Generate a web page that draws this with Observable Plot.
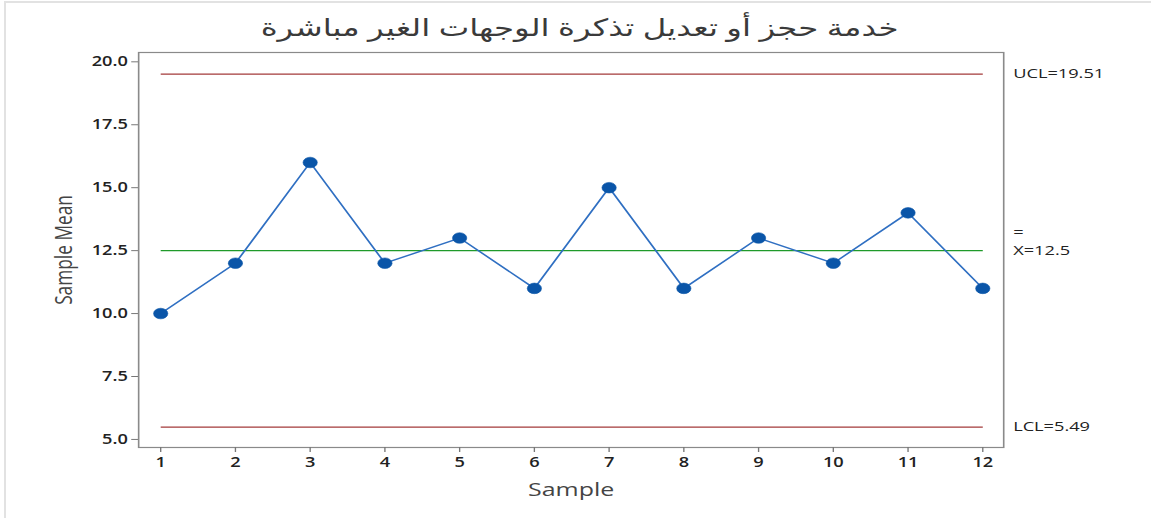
<!DOCTYPE html>
<html>
<head>
<meta charset="utf-8">
<script src="https://cdn.jsdelivr.net/npm/d3@7"></script>
<script src="https://cdn.jsdelivr.net/npm/@observablehq/plot@0.6"></script>
<style>
  html, body { margin: 0; padding: 0; background: #fff; overflow: hidden; }
  #page { position: relative; width: 1151px; height: 518px; overflow: hidden; }
  #edge { position: absolute; left: 4px; top: 1px; right: 0; bottom: 0; border-left: 2px solid #e2e2e2; border-top: 2px solid #e2e2e2; pointer-events: none; }
  #wrap { position: absolute; left: 0; top: 0; width: 852.6px; height: 518px; transform: scaleX(1.35); transform-origin: 0 0; }
  #title { height: 46px; line-height: 54px; text-align: center; font-family: "Noto Sans", "DejaVu Sans", sans-serif; font-size: 24px; color: #3a3a3a; padding-left: 6px; }
</style>
</head>
<body>
<div id="page">
  <div id="wrap">
    <div id="title" dir="rtl">خدمة حجز أو تعديل تذكرة الوجهات الغير مباشرة</div>
    <div id="chart"></div>
  </div>
  <div id="edge"></div>
</div>
<script>
const samples = [1, 2, 3, 4, 5, 6, 7, 8, 9, 10, 11, 12];
const means = [10, 12, 16, 12, 13, 11, 15, 11, 13, 12, 14, 11];
const UCL = 19.51;
const CENTER = 12.5;
const LCL = 5.49;
const yTicks = [5, 7.5, 10, 12.5, 15, 17.5, 20];
const limitLabels = ["UCL=19.51", "X=12.5", "LCL=5.49"];

const data = samples.map((s, i) => ({sample: s, mean: means[i]}));
const limits = [
  {value: UCL, color: "#a33a3a", label: limitLabels[0]},
  {value: CENTER, color: "#1f9a2a", label: limitLabels[1]},
  {value: LCL, color: "#a33a3a", label: limitLabels[2]}
];
const limitSegs = limits.map(d => ({...d, x1: samples[0], x2: samples[samples.length - 1]}));

const xMax = 12.28;
const plot = Plot.plot({
  width: 852.6,
  height: 472,
  marginLeft: 102.2,
  marginRight: 109.6,
  marginTop: 6,
  marginBottom: 71,
  style: {fontFamily: "'Open Sans', 'Noto Sans', sans-serif", fontSize: "13px", color: "#222", background: "transparent", overflow: "visible"},
  x: {domain: [0.705, xMax], label: null},
  y: {domain: [4.68, 20.37], label: null},
  marks: [
    Plot.frame({stroke: "#8a8a8a", strokeWidth: 1.2}),
    Plot.axisX({ticks: samples, tickFormat: d => String(d), tickSize: 5, stroke: "#777", fontWeight: 600, fill: "#222", tickPadding: 5, fontSize: 13.5, label: null}),
    Plot.axisY({ticks: yTicks, tickFormat: d => d.toFixed(1), tickSize: 5, stroke: "#777", fontWeight: 600, fill: "#222", tickPadding: 3, fontSize: 13.5, label: null}),
    Plot.link(limitSegs, {x1: "x1", x2: "x2", y1: "value", y2: "value", stroke: "color", strokeWidth: 1.3}),
    Plot.line(data, {x: "sample", y: "mean", stroke: "#2f6fc2", strokeWidth: 1.4}),
    Plot.dot(data, {x: "sample", y: "mean", r: 5.3, fill: "#0a55a8", stroke: "#0a55a8", strokeWidth: 0.5}),
    Plot.text(limits, {x: xMax, y: "value", text: "label", dx: 7, textAnchor: "start", fontSize: 13.5, fill: "#222"}),
    Plot.text([limits[1]], {x: xMax, y: "value", text: () => "=", dx: 7, dy: -18, textAnchor: "start", fontSize: 13.5, fill: "#222"}),
    Plot.text(["Sample"], {frameAnchor: "bottom", textAnchor: "middle", dy: 49, text: d => d, fontSize: 18.5, fill: "#444"}),
    Plot.text(["Sample Mean"], {frameAnchor: "left", textAnchor: "middle", dx: -55, rotate: -90, text: d => d, fontSize: 17.3, fill: "#444"})
  ]
});
document.getElementById("chart").appendChild(plot);
</script>
</body>
</html>
